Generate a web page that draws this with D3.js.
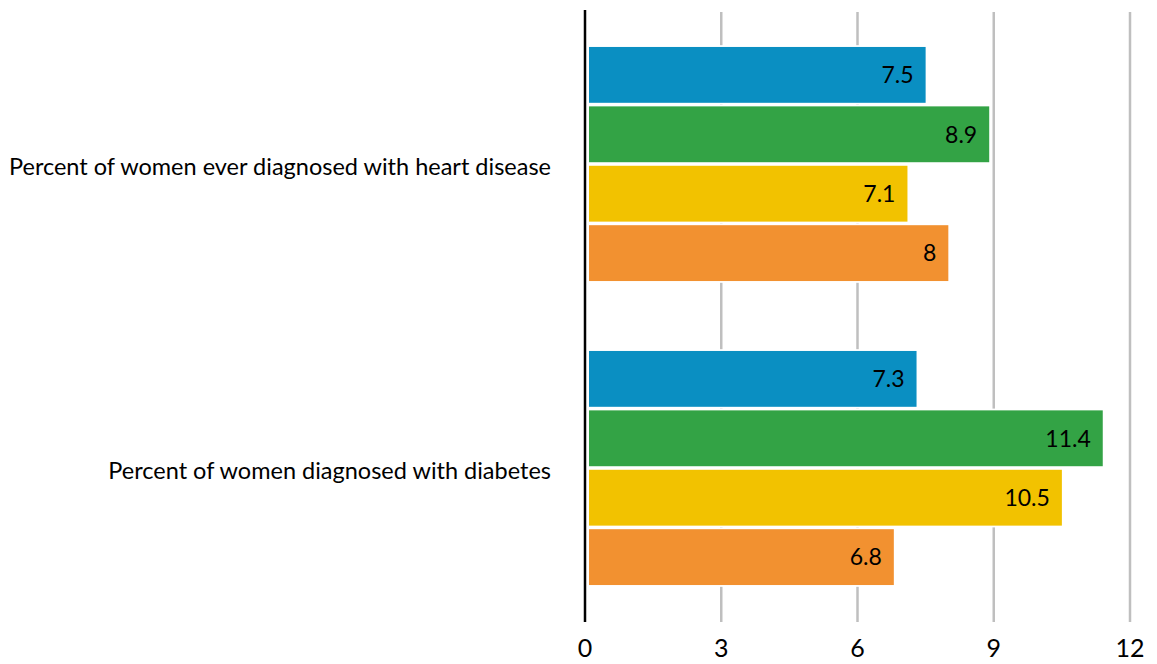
<!DOCTYPE html>
<html>
<head>
<meta charset="utf-8">
<script src="https://cdn.jsdelivr.net/npm/d3@7"></script>
<style>
  body { margin: 0; background: #fff; }
  text { font-family: "Lato", "Open Sans", sans-serif; fill: #000; }
</style>
</head>
<body>
<svg width="1157" height="664"></svg>
<script>
var categories = ["Percent of women ever diagnosed with heart disease", "Percent of women diagnosed with diabetes"];
var seriesNames = ["Group A", "Group B", "Group C", "Group D"];
var seriesColors = ["#0a8fc2", "#33a345", "#f2c200", "#f29130"];
var heartValues = [7.5, 8.9, 7.1, 8];
var diabetesValues = [7.3, 11.4, 10.5, 6.8];
var tickValues = [0, 3, 6, 9, 12];

var svg = d3.select("svg");

var xScale = d3.scaleLinear().domain([0, 12]).range([585, 1130]);
var yScale = d3.scaleBand().domain(categories).range([12, 620])
  .paddingInner(0.23).paddingOuter(0.115);
var ySub = d3.scaleBand().domain(seriesNames).range([0, yScale.bandwidth()])
  .paddingInner(0.06);

var data = [];
categories.forEach(function(c, ci) {
  var vals = ci == 0 ? heartValues : diabetesValues;
  seriesNames.forEach(function(s, si) {
    data.push({cat: c, series: s, val: vals[si], color: seriesColors[si]});
  });
});

// grid lines
svg.append("g")
  .selectAll("line")
  .data(tickValues.slice(1))
  .enter()
  .append("line")
  .attr("x1", d => xScale(d))
  .attr("x2", d => xScale(d))
  .attr("y1", 12)
  .attr("y2", 622)
  .style("stroke", "#bfbfbf")
  .style("stroke-width", 2.5);

var gap = ySub.step() - ySub.bandwidth();

// bars
var bar = svg.selectAll(".bar")
  .data(data)
  .enter()
  .append("g")
  .attr("class", "bar");

// white backing so the grid does not show between bars
bar.append("rect")
  .attr("x", xScale(0) + 2)
  .attr("y", d => yScale(d.cat) + ySub(d.series) - gap / 2)
  .attr("width", d => xScale(d.val) - xScale(0))
  .attr("height", ySub.step())
  .style("fill", "#fff");

bar.append("rect")
  .attr("x", xScale(0) + 4)
  .attr("y", d => yScale(d.cat) + ySub(d.series))
  .attr("width", d => xScale(d.val) - xScale(0) - 4)
  .attr("height", ySub.bandwidth())
  .style("fill", d => d.color);

bar.append("text")
  .attr("x", d => xScale(d.val) - 12)
  .attr("y", d => yScale(d.cat) + ySub(d.series) + ySub.bandwidth() / 2)
  .attr("dy", "0.36em")
  .attr("text-anchor", "end")
  .style("font-size", "23px")
  .text(d => d.val);

// axis line
svg.append("line")
  .attr("x1", xScale(0))
  .attr("x2", xScale(0))
  .attr("y1", 10)
  .attr("y2", 622)
  .style("stroke", "#000")
  .style("stroke-width", 2.5);

// tick labels
svg.append("g")
  .selectAll("text")
  .data(tickValues)
  .enter()
  .append("text")
  .attr("x", d => xScale(d))
  .attr("y", 657)
  .attr("text-anchor", "middle")
  .style("font-size", "25px")
  .text(d => d);

// category labels
svg.append("g")
  .selectAll("text")
  .data(categories)
  .enter()
  .append("text")
  .attr("x", 551)
  .attr("y", d => yScale(d) + yScale.bandwidth() / 2 + 3)
  .attr("dy", "0.35em")
  .attr("text-anchor", "end")
  .style("font-size", "23.5px")
  .text(d => d);
</script>
</body>
</html>
